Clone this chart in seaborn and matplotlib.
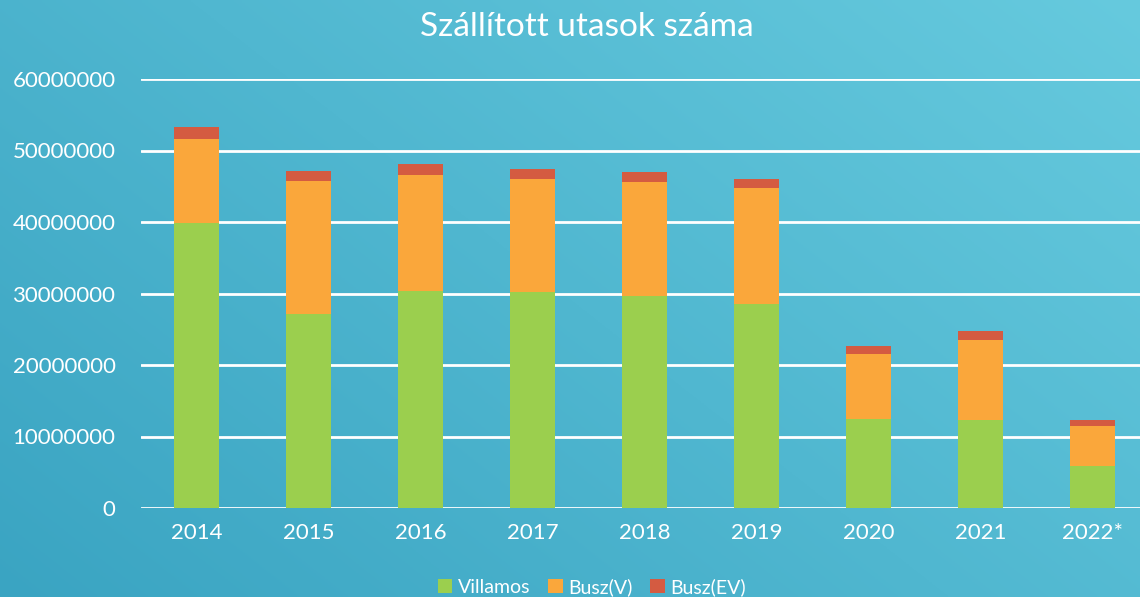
import numpy as np
import pandas as pd
import matplotlib
matplotlib.use("Agg")
import matplotlib.pyplot as plt
import seaborn as sns
from matplotlib.patches import Patch

years = ["2014", "2015", "2016", "2017", "2018", "2019", "2020", "2021", "2022*"]
villamos = [39800000, 27100000, 30300000, 30200000, 29700000, 28500000, 12450000, 12300000, 5900000]
busz_v = [11800000, 18600000, 16300000, 15800000, 15900000, 16200000, 9150000, 11200000, 5500000]
busz_ev = [1700000, 1500000, 1550000, 1400000, 1400000, 1300000, 1100000, 1250000, 900000]
series_names = ["Villamos", "Busz(V)", "Busz(EV)"]
colors = ["#9BCF4E", "#FAA73B", "#D45B41"]
yticks = [0, 10000000, 20000000, 30000000, 40000000, 50000000, 60000000]

sns.set_theme(style="white")
plt.rcParams['font.family'] = ['Lato', 'DejaVu Sans']

fig = plt.figure(figsize=(11.4, 5.97), dpi=100)

# background gradient
bg = fig.add_axes([0, 0, 1, 1], zorder=-10)
h, w = 200, 400
yy, xx = np.mgrid[0:h, 0:w]
t = (xx / w) * 0.6 + (1 - yy / h) * 0.4  # 0 bottom-left, 1 top-right
c0 = np.array([0x3A, 0xA4, 0xC2]) / 255
c1 = np.array([0x66, 0xCA, 0xDE]) / 255
img = c0[None, None, :] * (1 - t[..., None]) + c1[None, None, :] * t[..., None]
bg.imshow(img, aspect="auto", extent=[0, 1, 0, 1], origin="upper")
bg.axis("off")

ax = fig.add_axes([140.5 / 1140, (597 - 508) / 597, 1008 / 1140, (508 - 79) / 597])
ax.set_facecolor("none")

df = pd.DataFrame({"year": years, "Villamos": villamos, "Busz(V)": busz_v, "Busz(EV)": busz_ev})
df["c1"] = df["Villamos"]
df["c2"] = df["c1"] + df["Busz(V)"]
df["c3"] = df["c2"] + df["Busz(EV)"]

for col, color in zip(["c3", "c2", "c1"], colors[::-1]):
    sns.barplot(data=df, x="year", y=col, color=color, width=0.402, ax=ax,
                saturation=1, edgecolor="none", linewidth=0, zorder=3)

ax.set_ylim(0, 60000000)
ax.set_xlim(-0.5, len(years) - 0.5)
ax.set_yticks(yticks)
ax.set_yticklabels([str(v) for v in yticks])
ax.yaxis.grid(True, color="white", linewidth=2)
ax.set_axisbelow(True)
for s in ax.spines.values():
    s.set_visible(False)
ax.set_xlabel("")
ax.set_ylabel("")
ax.tick_params(axis="both", colors="white", labelsize=16, length=0)
ax.tick_params(axis="y", pad=18)
ax.tick_params(axis="x", pad=11)

fig.text(587 / 1140, 1 - 27 / 597, "Szállított utasok száma", color="white",
         fontsize=24, ha="center", va="center")

handles = [Patch(facecolor=c, edgecolor="none", label=n) for n, c in zip(series_names, colors)]
fig.legend(handles=handles, loc="center", bbox_to_anchor=(592 / 1140, 1 - 587 / 597),
           ncol=3, frameon=False, fontsize=14, labelcolor="white",
           handlelength=0.75, handleheight=0.75, handletextpad=0.3, columnspacing=0.9)

fig.savefig("out.png", dpi=100)
